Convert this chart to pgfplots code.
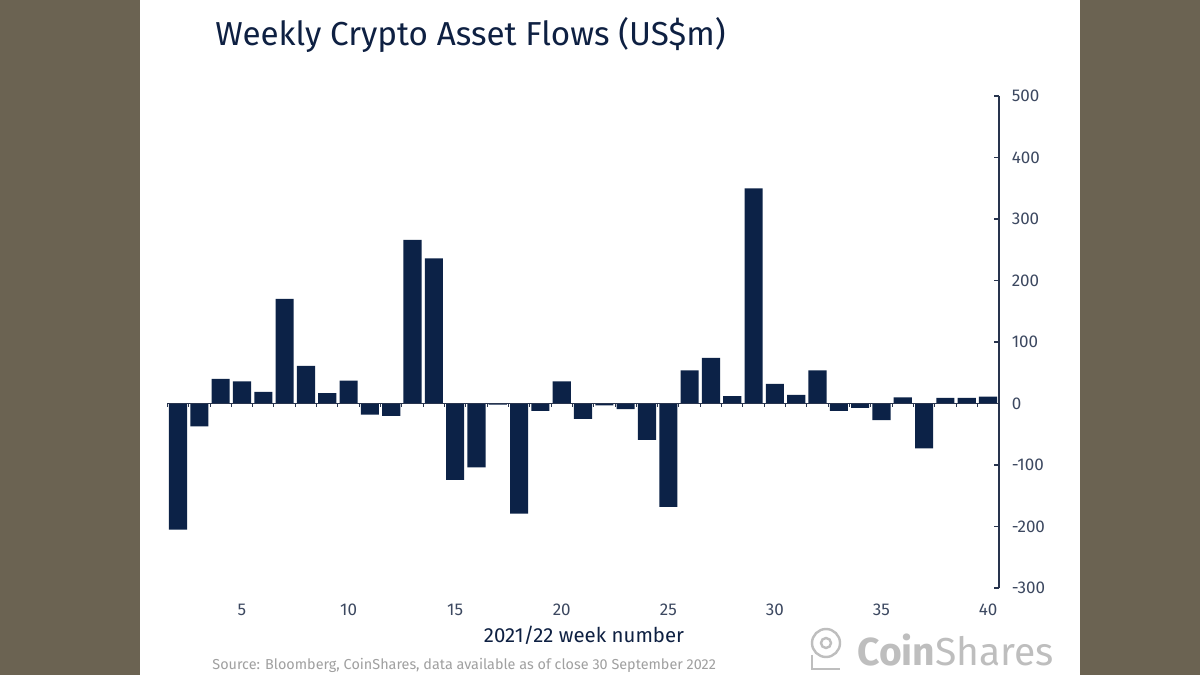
\documentclass[border=0pt]{standalone}
\usepackage{pgfplots}
\pgfplotsset{compat=1.18}
\usepackage{fontspec}
\setmainfont{Fira Sans}
\definecolor{barnavy}{RGB}{12,34,71}
\definecolor{titlenavy}{RGB}{14,32,66}
\definecolor{ticktext}{RGB}{60,72,96}
\definecolor{axisnavy}{RGB}{40,52,78}
\definecolor{srcgray}{RGB}{160,160,160}
\definecolor{logogray}{RGB}{190,190,190}
\definecolor{bgolive}{RGB}{107,99,82}
\pgfplotstableread{
week flow
2 -205
3 -37
4 40
5 36
6 19
7 170
8 61
9 17
10 37
11 -18
12 -20
13 266
14 236
15 -124
16 -104
17 -2
18 -179
19 -12
20 36
21 -25
22 -3
23 -9
24 -59
25 -168
26 54
27 74
28 12
29 350
30 32
31 14
32 54
33 -12
34 -7
35 -27
36 10
37 -73
38 9
39 9
40 11
}\flows
\begin{document}
\begin{tikzpicture}
\useasboundingbox (0,0) rectangle (600pt,337.5pt);
\fill[bgolive] (0,0) rectangle (600pt,337.5pt);
\fill[white] (70pt,0) rectangle (540pt,337.5pt);
\begin{axis}[
  scale only axis,
  width=415.65pt, height=246pt,
  anchor=south west, at={(83.7pt,43.5pt)},
  xmin=1.5, xmax=40.5, ymin=-300, ymax=500,
  axis y line*=right,
  axis x line*=bottom,
  x axis line style={draw=none},
  y axis line style={axisnavy, line width=0.8pt},
  xtick={5,10,15,20,25,30,35,40},
  xticklabels={5,10,15,20,25,30,35,40},
  ytick={-300,-200,-100,0,100,200,300,400,500},
  yticklabels={-300,-200,-100,0,100,200,300,400,500},
  x tick style={draw=none},
  y tick style={axisnavy, line width=0.6pt},
  tick align=inside,
  major tick length=2.5pt,
  xticklabel style={font=\fontsize{8.5}{10}\selectfont, text=ticktext, yshift=-2pt},
  yticklabel style={font=\fontsize{8.5}{10}\selectfont, text=ticktext, xshift=3pt},
  ybar, bar width=0.85,
  clip=false,
]
\addplot[fill=barnavy, draw=none] table[x=week, y=flow] {\flows};
\draw[axisnavy, line width=0.6pt] (axis cs:1.5,0) -- (axis cs:40.5,0);
\pgfplotsinvokeforeach{1.5,2.5,...,39.5}{
  \draw[axisnavy, line width=0.5pt] (axis cs:#1,0) -- (axis cs:#1,-5.5);
}
\end{axis}
\node[anchor=base west, text=titlenavy, inner sep=0pt, font=\fontsize{16.6}{19}\selectfont] at (107.5pt,314.5pt) {Weekly Crypto Asset Flows (US\$m)};
\node[anchor=center, text=titlenavy, inner sep=0pt, font=\fontsize{10.2}{12}\selectfont] at (292pt,20pt) {2021/22 week number};
\node[anchor=base west, text=srcgray, inner sep=0pt, font=\fontsize{7.2}{8}\selectfont] at (106pt,2.8pt) {Source: Bloomberg, CoinShares, data available as of close 30 September 2022};
% logo
\draw[logogray, line width=1.2pt] (413pt,16pt) circle (7pt);
\draw[logogray, line width=1.2pt] (413pt,16pt) circle (2.5pt);
\draw[logogray, line width=1.2pt] (406pt,10pt) -- (406pt,3pt) -- (420pt,3pt);
\node[anchor=base west, text=logogray, inner sep=0pt, font=\fontsize{19.5}{21}\selectfont] at (428.5pt,5pt) {\textbf{Coin}Shares};
\end{tikzpicture}
\end{document}
